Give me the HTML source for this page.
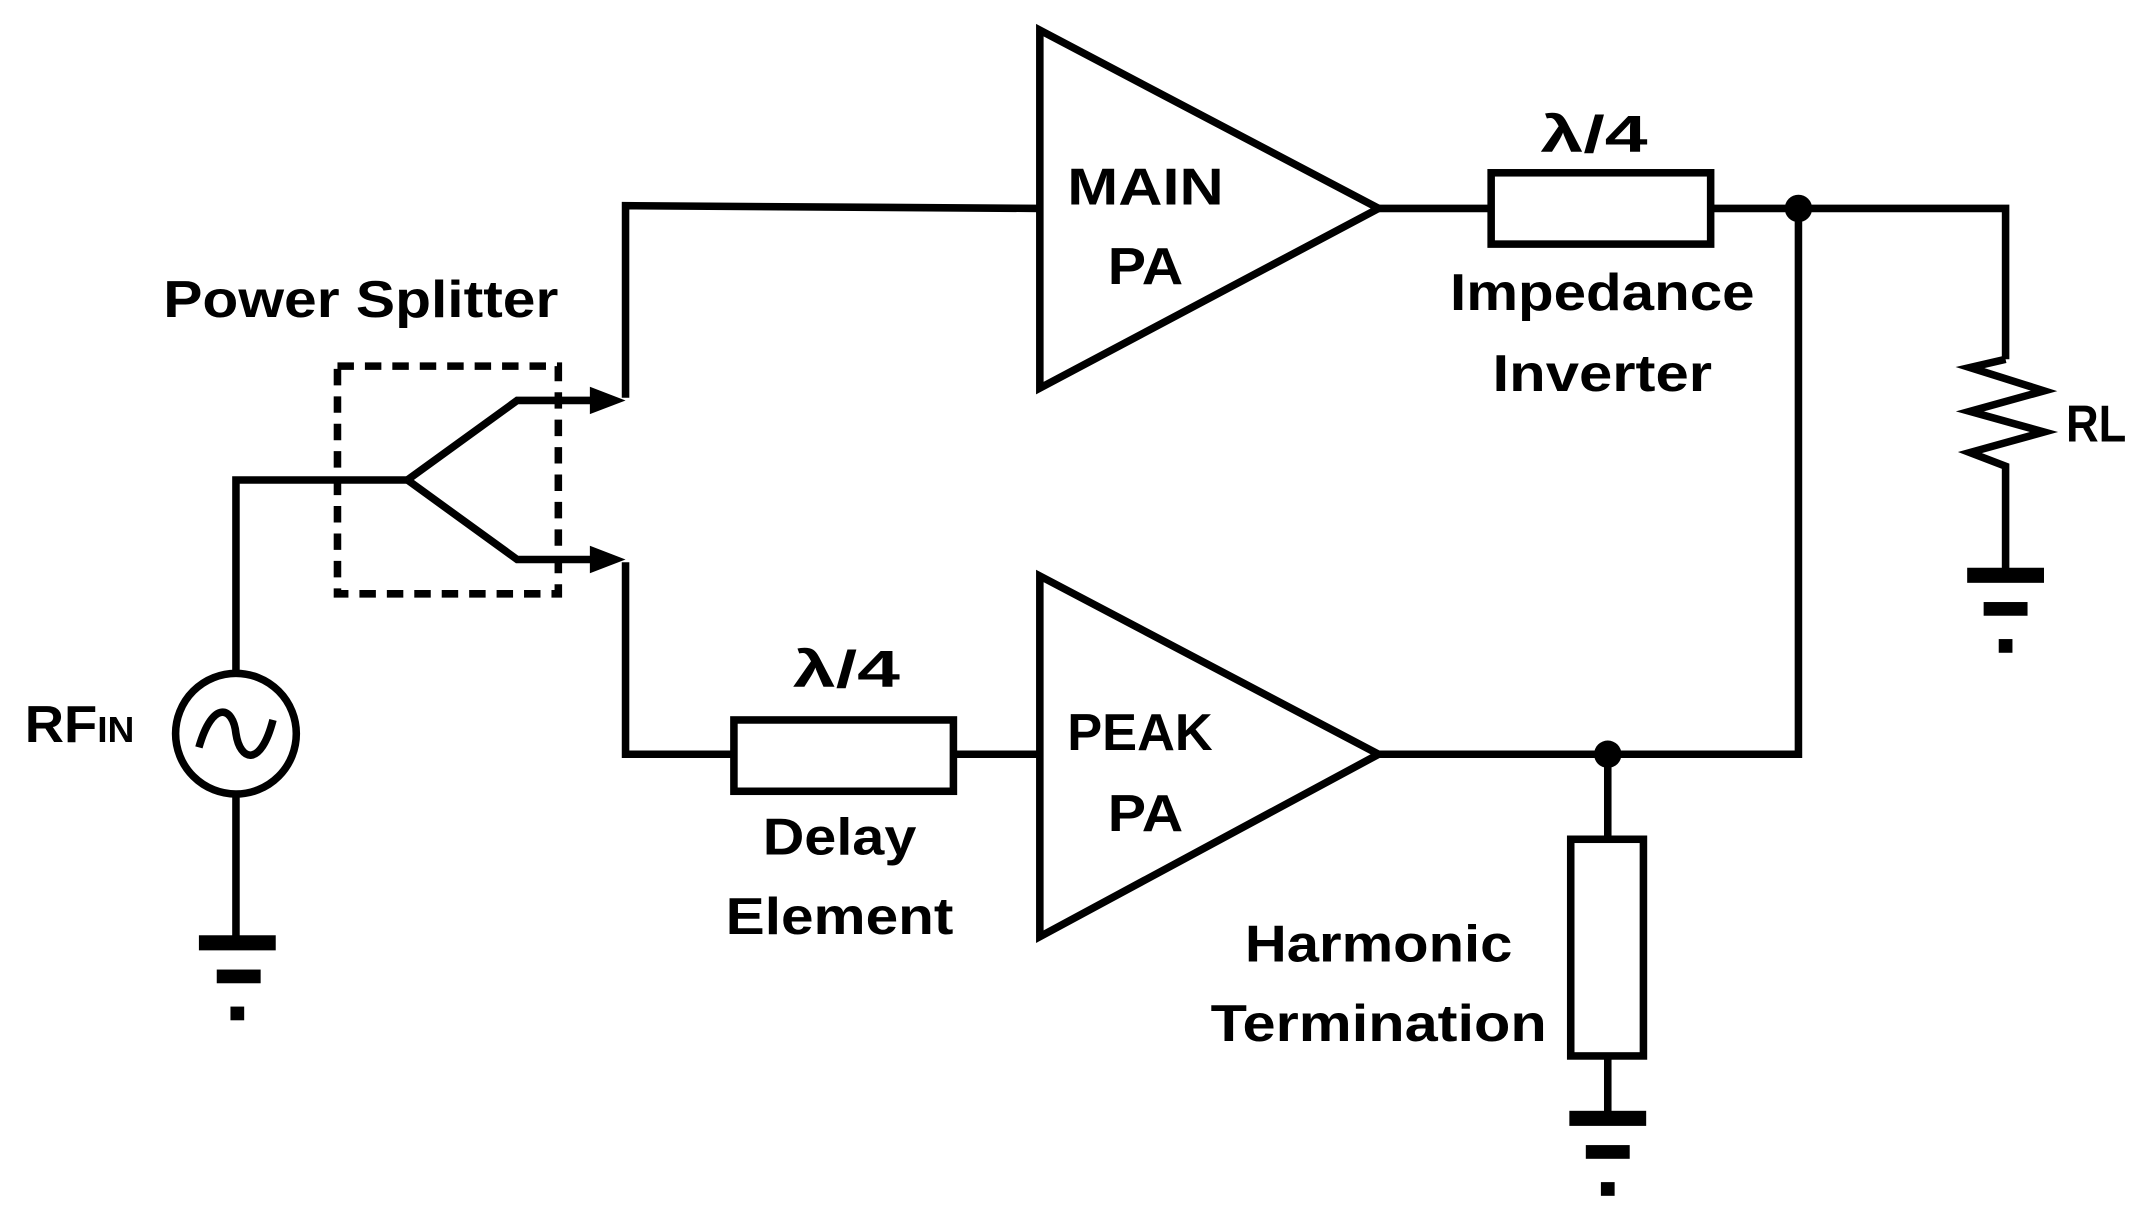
<!DOCTYPE html>
<html><head><meta charset="utf-8"><style>html,body{margin:0;padding:0;background:#fff}svg{display:block}</style></head>
<body>
<svg width="2151" height="1226" viewBox="0 0 1568 894" preserveAspectRatio="none" xmlns="http://www.w3.org/2000/svg">
<g fill="none" stroke="#000" stroke-width="5.5" stroke-linejoin="miter">
<polygon points="758,22 758,283 1005,152"/>
<polygon points="758,420 758,683 1005,550"/>
<polyline points="456,290 456,150 758,152"/>
<polyline points="456,410 456,550 535,550"/>
<rect x="535" y="525" width="160" height="52"/>
<line x1="695" y1="550" x2="758" y2="550"/>
<rect x="246" y="267" width="161" height="166" stroke-dasharray="12,8"/>
<polyline points="172,490 172,350 297,350"/>
<polyline points="297,350 377,292 436,292"/>
<polyline points="297,350 377,408 436,408"/>
<circle cx="172" cy="535" r="44"/>
<path d="M145,545 C155,510 170,515 172,535 C175,555 190,560 199,525"/>
<line x1="172" y1="580" x2="172" y2="686"/>
<line x1="1005" y1="152" x2="1087" y2="152"/>
<rect x="1087" y="126" width="160" height="52"/>
<polyline points="1247,152 1462,152 1462,262"/>
<polyline points="1462,262 1436,268 1490,285 1436,300 1490,315 1436,330 1462,340 1462,418"/>
<polyline points="1311,152 1311,550 1005,550"/>
<line x1="1172" y1="550" x2="1172" y2="612"/>
<rect x="1145" y="612" width="53" height="158"/>
<line x1="1172" y1="770" x2="1172" y2="815"/>
</g>
<g fill="#000">
<polygon points="430,282 456,292 430,302"/>
<polygon points="430,398 456,408 430,418"/>
<circle cx="1311" cy="152" r="10"/>
<circle cx="1172" cy="550" r="10"/>
<rect x="145" y="682" width="56" height="11"/><rect x="158" y="707" width="32" height="10"/><rect x="168" y="734" width="10" height="10"/>
<rect x="1434" y="414" width="56" height="11"/><rect x="1446" y="439" width="32" height="10"/><rect x="1457" y="466" width="10" height="10"/>
<rect x="1144" y="810" width="56" height="11"/><rect x="1156" y="835" width="32" height="10"/><rect x="1167" y="862" width="10" height="10"/>
</g>
<g font-family="'Liberation Sans',sans-serif" font-weight="bold" font-size="38" text-anchor="middle" fill="#000">
<text x="835" y="149" textLength="114" lengthAdjust="spacingAndGlyphs">MAIN</text><text x="835" y="207" textLength="55" lengthAdjust="spacingAndGlyphs">PA</text>
<text x="831" y="547" textLength="106" lengthAdjust="spacingAndGlyphs">PEAK</text><text x="835" y="606" textLength="55" lengthAdjust="spacingAndGlyphs">PA</text>
<text x="1162" y="111" textLength="78" lengthAdjust="spacingAndGlyphs">λ/4</text><text x="617" y="501" textLength="78" lengthAdjust="spacingAndGlyphs">λ/4</text>
<text x="1168" y="226" textLength="222" lengthAdjust="spacingAndGlyphs">Impedance</text>
<text x="1168" y="285" textLength="160" lengthAdjust="spacingAndGlyphs">Inverter</text>
<text x="263" y="231" textLength="288" lengthAdjust="spacingAndGlyphs">Power Splitter</text>
<text x="612" y="623" textLength="112" lengthAdjust="spacingAndGlyphs">Delay</text>
<text x="612" y="681" textLength="166" lengthAdjust="spacingAndGlyphs">Element</text>
<text x="1005" y="701" textLength="195" lengthAdjust="spacingAndGlyphs">Harmonic</text>
<text x="1005" y="759" textLength="245" lengthAdjust="spacingAndGlyphs">Termination</text>
<text x="1528" y="322" textLength="44" lengthAdjust="spacingAndGlyphs">RL</text>
<text x="58" y="541" textLength="80" lengthAdjust="spacingAndGlyphs">RF<tspan font-size="26">IN</tspan></text>
</g>
</svg>
</body></html>
